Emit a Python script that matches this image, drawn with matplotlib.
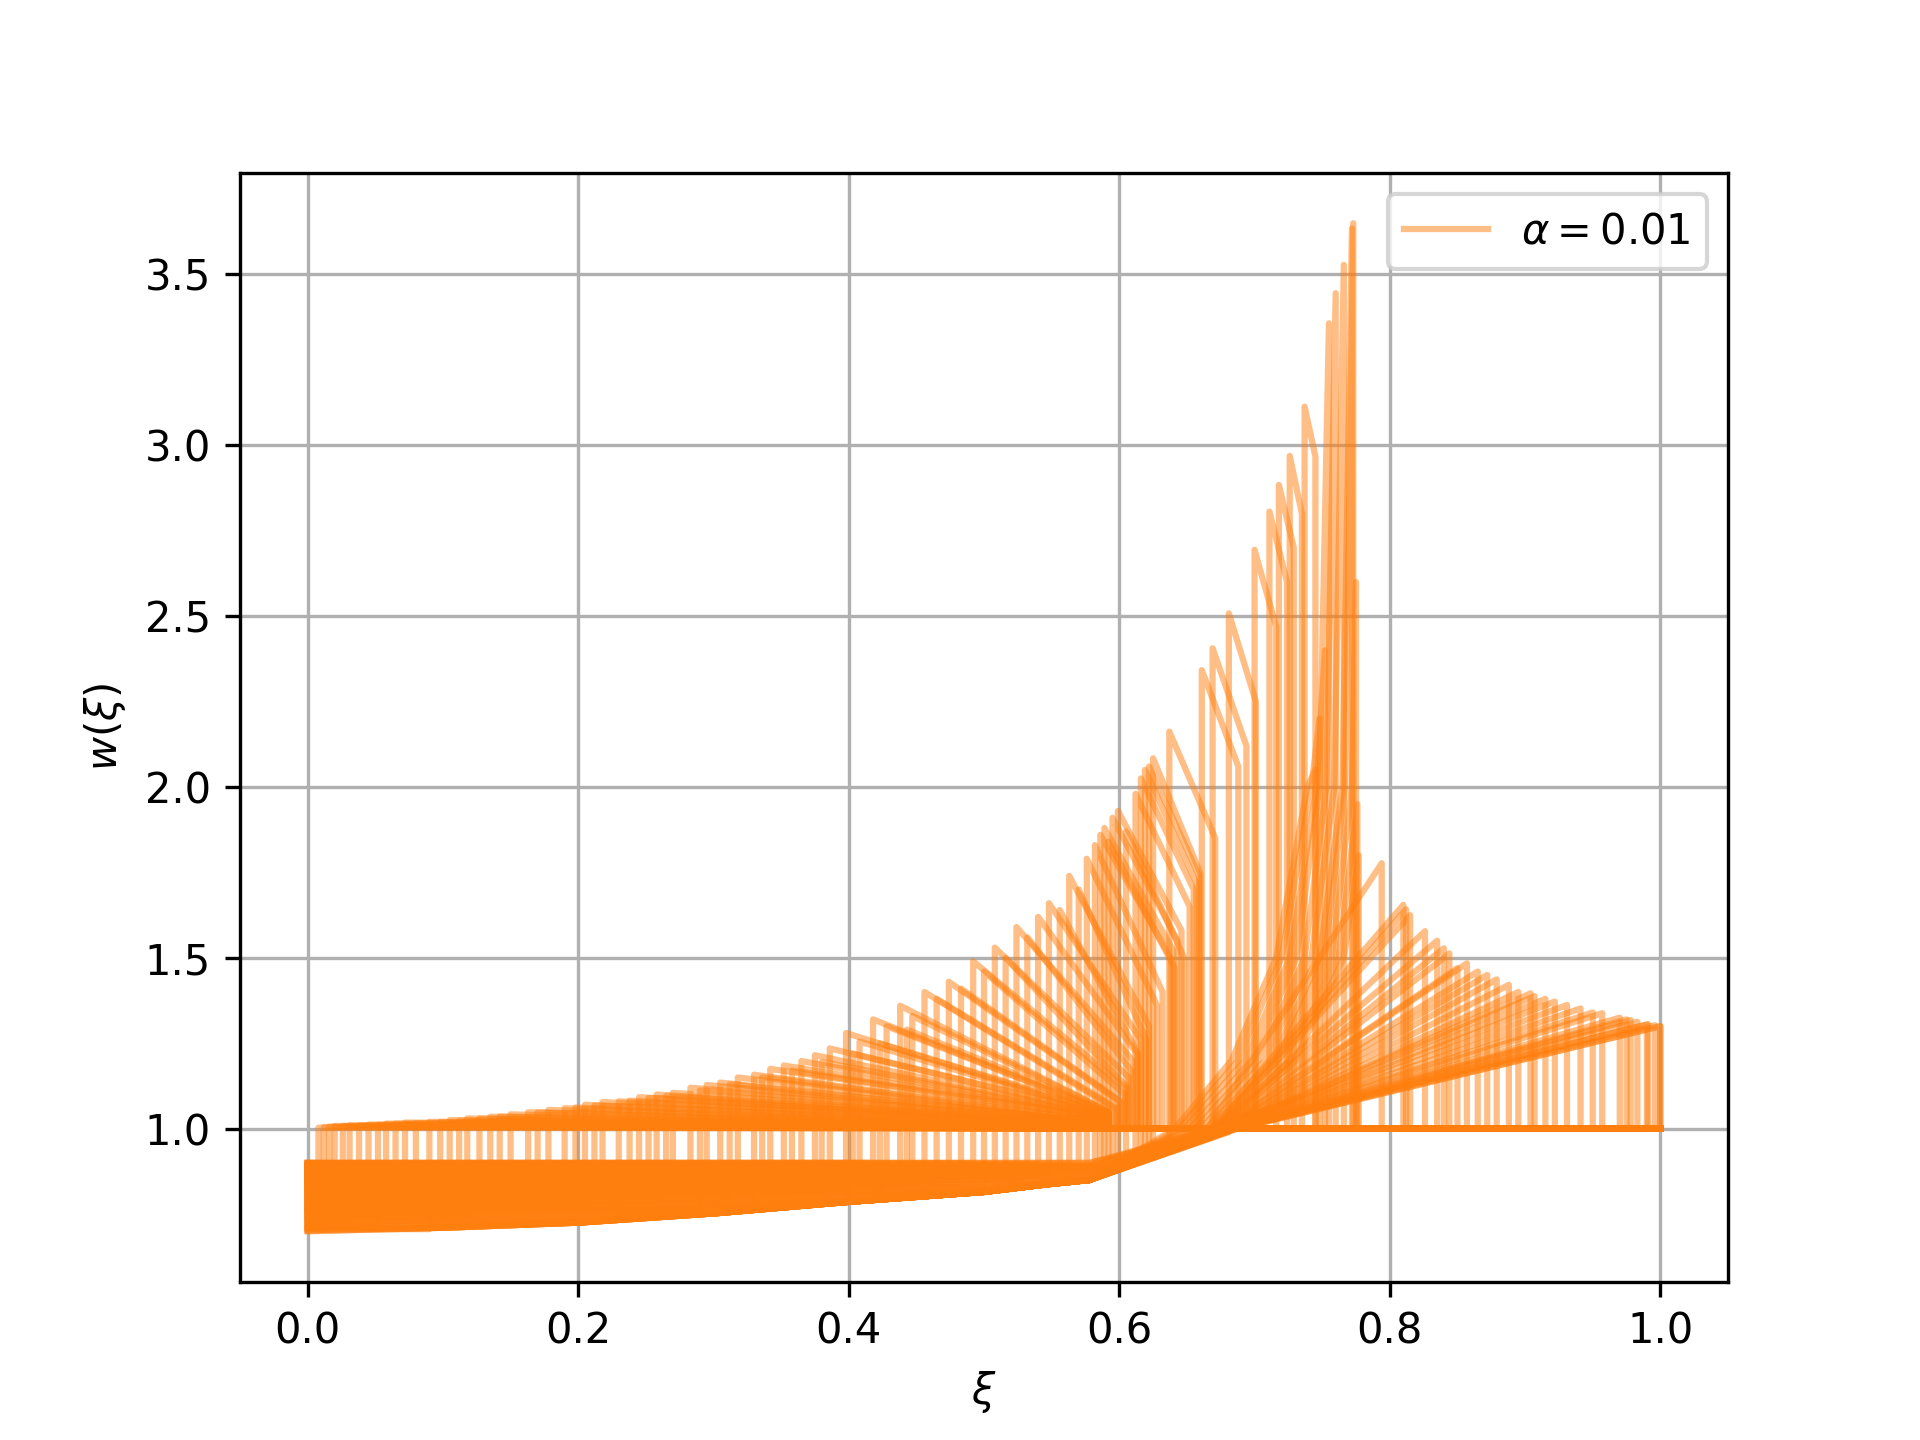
import numpy as np
import matplotlib
matplotlib.use('Agg')
import matplotlib.pyplot as plt

nan = np.nan

# lower edge of the band of left states
low_xi = [0.0, 0.1, 0.2, 0.3, 0.4, 0.5, 0.548, 0.578]
low_w = [0.700, 0.710, 0.725, 0.752, 0.786, 0.815, 0.838, 0.850]
right_w = 1.0                    # right state, kept up to xi = 1

# left shocks: start value, shock position, peak, end of the decay
a_w0 = [0.900, 0.712, 0.846, 0.758, 0.887, 0.733, 0.804, 0.869, 0.722, 0.791,
        0.853, 0.745, 0.878, 0.706, 0.826,
        0.768, 0.894, 0.739, 0.812, 0.860, 0.781, 0.838, 0.752, 0.883, 0.797,
        0.865, 0.820,
        0.774, 0.891, 0.842, 0.762, 0.872, 0.808, 0.850, 0.788, 0.897, 0.816,
        0.875, 0.766, 0.830, 0.858, 0.795, 0.885, 0.778, 0.846,
        0.880, 0.812, 0.895, 0.836, 0.862, 0.805, 0.889, 0.824, 0.870, 0.848,
        0.900, 0.818, 0.856, 0.884, 0.832, 0.866,
        0.892, 0.842, 0.876, 0.858, 0.899, 0.838, 0.868, 0.886, 0.850, 0.880,
        0.895, 0.870, 0.888, 0.862, 0.898, 0.878, 0.890]
a_xs = [0.008, 0.012, 0.016, 0.020, 0.026, 0.031, 0.038, 0.045, 0.052, 0.058,
        0.065, 0.072, 0.080, 0.090, 0.098, 0.105, 0.112, 0.118, 0.127, 0.135,
        0.142, 0.150, 0.163, 0.170, 0.178, 0.190, 0.198, 0.205, 0.212, 0.218,
        0.230, 0.238, 0.245, 0.252, 0.258, 0.265, 0.270, 0.283, 0.290, 0.295,
        0.305, 0.312, 0.318, 0.330, 0.336, 0.342, 0.352, 0.358, 0.365, 0.375,
        0.380, 0.386, 0.398, 0.403, 0.408, 0.418, 0.423, 0.428, 0.438, 0.443,
        0.447, 0.456, 0.465, 0.474, 0.483, 0.492, 0.500, 0.508, 0.516, 0.524,
        0.532, 0.540, 0.548, 0.556, 0.563, 0.570, 0.576, 0.582]
a_wp = [1.003, 1.005, 1.006, 1.008, 1.008, 1.010, 1.010, 1.012, 1.012, 1.015,
        1.015, 1.018, 1.016, 1.020, 1.020, 1.025, 1.024, 1.030, 1.030, 1.035,
        1.036, 1.042, 1.048, 1.048, 1.055, 1.060, 1.062, 1.070, 1.068, 1.078,
        1.080, 1.082, 1.092, 1.090, 1.100, 1.095, 1.105, 1.120, 1.112, 1.128,
        1.135, 1.130, 1.150, 1.158, 1.150, 1.175, 1.185, 1.170, 1.198, 1.215,
        1.195, 1.235, 1.280, 1.220, 1.255, 1.320, 1.250, 1.300, 1.360, 1.290,
        1.330, 1.400, 1.380, 1.430, 1.410, 1.490, 1.460, 1.530, 1.500, 1.590,
        1.560, 1.620, 1.660, 1.640, 1.740, 1.700, 1.790, 1.830]
a_xd = [0.590] * 45 + [0.592] * 16 + \
       [0.596, 0.598, 0.600, 0.601, 0.604, 0.604, 0.607, 0.606, 0.610, 0.609,
        0.613, 0.616, 0.614, 0.622, 0.620, 0.628, 0.632]
a_wd = [1.000] * 27 + \
       [1.005, 1.005, 1.008, 1.010, 1.010, 1.010, 1.012, 1.012, 1.014, 1.014,
        1.015, 1.015, 1.016, 1.018, 1.018, 1.020, 1.020, 1.022,
        1.030, 1.030, 1.030, 1.032, 1.035, 1.035, 1.038, 1.040, 1.040, 1.040,
        1.045, 1.045, 1.045, 1.050, 1.050, 1.050,
        1.060, 1.060, 1.080, 1.080, 1.120, 1.100, 1.150, 1.120, 1.200, 1.170,
        1.220, 1.260, 1.220, 1.300, 1.260, 1.360, 1.400]

# shocks near the kink: foot, peak, second shock
m_w0 = [0.71, 0.83, 0.76, 0.89, 0.74, 0.80, 0.86, 0.72, 0.78, 0.88,
        0.75, 0.82, 0.70, 0.85, 0.77, 0.90, 0.73, 0.81, 0.87, 0.79]
m_xs = [0.586, 0.589, 0.592, 0.595, 0.599, 0.605, 0.612, 0.616, 0.619, 0.622,
        0.625, 0.637, 0.661, 0.669, 0.681, 0.700, 0.711, 0.718, 0.726, 0.737]
m_wb = [0.870, 0.874, 0.878, 0.882, 0.887, 0.895, 0.904, 0.909, 0.913, 0.917,
        0.920, 0.935, 0.965, 0.975, 0.990, 1.030, 1.050, 1.060, 1.080, 1.100]
m_wp = [1.860, 1.880, 1.840, 1.910, 1.930, 1.870, 1.980, 2.025, 2.050, 2.060,
        2.084, 2.162, 2.342, 2.406, 2.508, 2.694, 2.806, 2.884, 2.969, 3.113]
m_xd = [0.638, 0.640, 0.641, 0.643, 0.646, 0.648, 0.652, 0.655, 0.657, 0.659,
        0.660, 0.671, 0.688, 0.694, 0.701, 0.716, 0.724, 0.729, 0.735, 0.745]
m_wd = [1.500, 1.520, 1.470, 1.550, 1.580, 1.500, 1.650, 1.700, 1.720, 1.740,
        1.747, 1.850, 2.060, 2.120, 2.250, 2.469, 2.600, 2.700, 2.800, 2.967]

# rising curves: xi where w passes 1.0, 1.2, 1.5, 2.0, then the peak before the drop
r_levels = [1.0, 1.2, 1.5, 2.0]
r_w0 = [0.705, 0.815, 0.765, 0.885, 0.725, 0.845, 0.795, 0.755, 0.875, 0.715, 0.835,
        0.785, 0.895, 0.745, 0.825, 0.700, 0.865, 0.775, 0.735, 0.855, 0.805, 0.710,
        0.890, 0.760, 0.840, 0.720, 0.800, 0.880, 0.750, 0.830, 0.770, 0.860, 0.730,
        0.810, 0.870, 0.740, 0.820, 0.780, 0.850, 0.790, 0.900, 0.703, 0.762]
r_x10 = [0.667, 0.664, 0.660, 0.656, 0.652, 0.648, 0.644, 0.670, 0.672, 0.675, 0.641,
         0.665, 0.668, 0.670, 0.671, 0.673, 0.675, 0.676, 0.677, 0.678, 0.679, 0.680,
         0.681, 0.681, 0.682, 0.682, 0.683, 0.683, 0.684, 0.684, 0.685, 0.685, 0.686,
         0.686, 0.687, 0.676, 0.678, 0.680, 0.683, 0.684, 0.685, 0.687, 0.672]
r_x12 = [0.717, 0.713, 0.708, 0.703, 0.698, 0.693, 0.688, 0.722, 0.726, 0.730, 0.683,
         0.698, 0.711, 0.714, 0.717, 0.726, 0.738, 0.742, 0.751, 0.764, 0.771, 0.779,
         0.794, 0.797, 0.805, 0.811, 0.820, 0.830, 0.846, 0.860, 0.869, 0.875, 0.885,
         0.891, 0.896, 0.750, 0.759, 0.788, 0.840, 0.866, 0.885, 0.896, 0.731]
r_x15 = [0.752, 0.748, 0.742, 0.737, 0.731, 0.726, 0.720, 0.757, 0.762, 0.766, 0.716,
         0.748, 0.776, 0.781, 0.786, 0.805, 0.831, 0.840] + [nan] * 24 + [0.820]
r_x20 = [0.767, 0.765, 0.759, 0.753, 0.748, 0.746, 0.742, 0.772, nan, nan, 0.739] + [nan] * 32
r_xp = [0.773, 0.772, 0.766, 0.760, 0.755, 0.752, 0.748, 0.775, 0.776, 0.777, 0.745,
        0.794, 0.810, 0.812, 0.815, 0.826, 0.840, 0.844, 0.857, 0.872, 0.879, 0.888,
        0.904, 0.907, 0.915, 0.922, 0.931, 0.941, 0.957, 0.970, 0.978, 0.983, 0.991,
        0.996, 1.000, 0.850, 0.865, 0.895, 0.950, 0.975, 0.990, 1.000, 0.835]
r_wp = [3.650, 3.635, 3.528, 3.445, 3.357, 2.400, 2.200, 2.600, 1.950, 1.800, 2.050,
        1.777, 1.655, 1.642, 1.625, 1.578, 1.528, 1.513, 1.484, 1.450, 1.437, 1.421,
        1.396, 1.388, 1.380, 1.372, 1.362, 1.352, 1.338, 1.325, 1.318, 1.313, 1.306,
        1.303, 1.300, 1.470, 1.460, 1.400, 1.340, 1.320, 1.305, 1.300, 1.550]


def lower_branch(w0):
    # flat at the start value until it meets the lower edge of the band
    return list(low_xi), list(np.maximum(w0, low_w))


curves = []
for w0, xs, wp, xd, wd in zip(a_w0, a_xs, a_wp, a_xd, a_wd):
    curves.append(([0, xs, xs, xd, xd, 1], [w0, w0, wp, wd, right_w, right_w]))

for w0, xs, wb, wp, xd, wd in zip(m_w0, m_xs, m_wb, m_wp, m_xd, m_wd):
    xi, w = lower_branch(w0)
    xi += [xs, xs, xd, xd, 1]
    w += [wb, wp, wd, right_w, right_w]
    curves.append((xi, w))

for k, w0 in enumerate(r_w0):
    xi, w = lower_branch(w0)
    for lev, xl in zip(r_levels, (r_x10[k], r_x12[k], r_x15[k], r_x20[k])):
        if not np.isnan(xl):
            xi.append(xl)
            w.append(lev)
    xi += [r_xp[k], r_xp[k], 1]
    w += [r_wp[k], right_w, right_w]
    curves.append((xi, w))


fig, ax = plt.subplots(figsize=(6.4, 4.8))
for i, (xi, w) in enumerate(curves):
    ax.plot(xi, w, color='C1', alpha=0.5,
            label=r'$\alpha = 0.01$' if i == 0 else None)

ax.set_xlabel(r'$\xi$')
ax.set_ylabel(r'$w(\xi)$')
ax.grid(True)
ax.legend(loc='upper right')

fig.savefig('out.png', dpi=300)
